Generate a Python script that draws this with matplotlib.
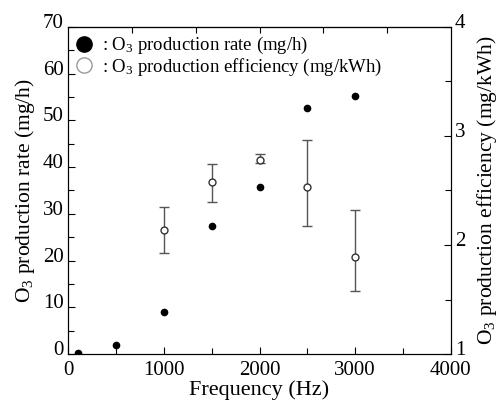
import matplotlib
matplotlib.use('Agg')
import matplotlib.pyplot as plt
from matplotlib.lines import Line2D
from matplotlib.ticker import MultipleLocator
from matplotlib.transforms import ScaledTranslation

plt.rcParams['font.family'] = ['Liberation Serif', 'DejaVu Serif']
plt.rcParams['mathtext.fontset'] = 'custom'
plt.rcParams['mathtext.rm'] = 'Liberation Serif'
plt.rcParams['mathtext.it'] = 'Liberation Serif:italic'

freq = [100, 500, 1000, 1500, 2000, 2500, 3000]
rate = [0.3, 1.9, 9.1, 27.5, 35.7, 52.6, 55.3]

eff_freq = [1000, 1500, 2000, 2500, 3000]
eff = [2.14, 2.575, 2.78, 2.53, 1.89]
eff_err_low = [0.21, 0.185, 0.03, 0.36, 0.31]
eff_err_high = [0.21, 0.165, 0.05, 0.43, 0.43]

fig = plt.figure(figsize=(5.01, 4.01), dpi=100)
ax = fig.add_subplot(111)
fig.subplots_adjust(left=0.136, right=0.9, bottom=0.117, top=0.933)
ax2 = ax.twinx()

ax.plot(freq, rate, 'o', color='black', markersize=4.5, zorder=5)
ax2.errorbar(eff_freq, eff, yerr=[eff_err_low, eff_err_high], fmt='o',
             mfc='white', mec='#333333', ms=5, ecolor='#555555',
             elinewidth=1.0, capsize=3.5, capthick=1.0, zorder=4)

ax.set_xlim(0, 4000)
ax.set_ylim(0, 70)
ax2.set_ylim(1, 4)

ax.xaxis.set_major_locator(MultipleLocator(1000))
ax.xaxis.set_minor_locator(MultipleLocator(500))
ax.yaxis.set_major_locator(MultipleLocator(10))
ax.yaxis.set_minor_locator(MultipleLocator(5))
ax2.yaxis.set_major_locator(MultipleLocator(1))
ax2.yaxis.set_minor_locator(MultipleLocator(0.5))

for a in (ax, ax2):
    a.tick_params(which='both', direction='in', labelsize=15, width=0.8)
    a.tick_params(which='major', length=5)
    a.tick_params(which='minor', length=4)
ax.tick_params(axis='y', pad=3)
ax2.tick_params(axis='y', pad=3)
ax.tick_params(axis='x', pad=5)

# y tick labels sit just above their ticks in the reference
shift = ScaledTranslation(0, 0.06, fig.dpi_scale_trans)
for lab in ax.get_yticklabels() + ax2.get_yticklabels():
    lab.set_transform(lab.get_transform() + shift)

top = ax.secondary_xaxis('top')
top.set_xticks([4000 / 6 * k for k in range(1, 6)])
top.tick_params(direction='in', length=4, labeltop=False)

ax.set_xlabel('Frequency (Hz)', fontsize=16, labelpad=0)
ax.set_ylabel('O$_3$ production rate (mg/h)', fontsize=15.5, labelpad=4.5)
ax2.set_ylabel('O$_3$ production efficiency (mg/kWh)', fontsize=15.5, labelpad=7)

handles = [
    Line2D([], [], marker='o', ls='none', color='black', markersize=11),
    Line2D([], [], marker='o', ls='none', mfc='white', mec='#999999', markersize=11),
]
labels = [': O$_3$ production rate (mg/h)', ': O$_3$ production efficiency (mg/kWh)']
ax.legend(handles, labels, loc='upper left', frameon=False, fontsize=13.5,
          handlelength=0.8, handletextpad=0.55, borderpad=0.25, labelspacing=0.0,
          borderaxespad=0.2)

fig.savefig('out.png', dpi=100)
